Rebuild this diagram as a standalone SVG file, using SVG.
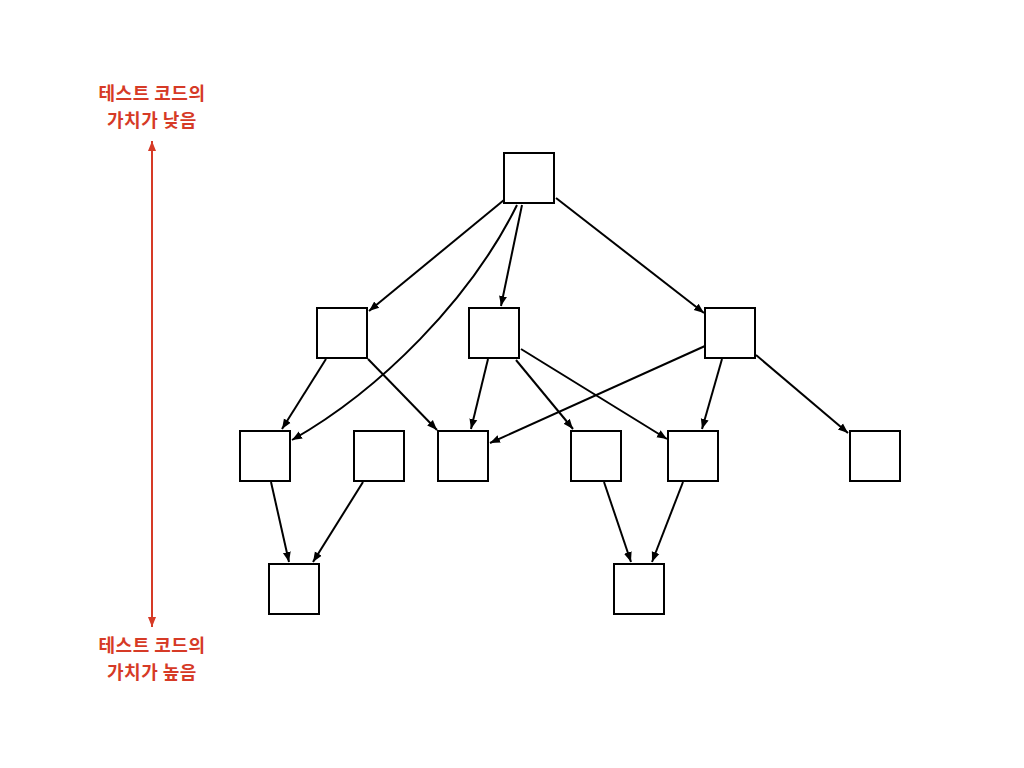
<svg xmlns="http://www.w3.org/2000/svg" width="1024" height="768" viewBox="0 0 1024 768">
  <defs>
    <marker id="arrow" viewBox="0 0 10 10" refX="10" refY="5" markerWidth="10" markerHeight="10" markerUnits="userSpaceOnUse" orient="auto">
      <path d="M0,1 L10,5 L0,9 Z" fill="#000"/>
    </marker>
    <marker id="arrowRed" viewBox="0 0 10 10" refX="10" refY="5" markerWidth="10" markerHeight="10" markerUnits="userSpaceOnUse" orient="auto-start-reverse">
      <path d="M0,1 L10,5 L0,9 Z" fill="#d63a26"/>
    </marker>
  </defs>
  <style>
    .node rect { fill: #fff; stroke: #000; stroke-width: 2; }
    .edge { fill: none; stroke: #000; stroke-width: 2; marker-end: url(#arrow); }
    .label { font-family: "Noto Sans CJK KR", "Noto Sans", sans-serif; font-size: 18px; font-weight: bold; letter-spacing: 0.5px; fill: #d63a26; text-anchor: middle; }
  </style>
  <rect width="1024" height="768" fill="#fff"/>

  <!-- value axis -->
  <g id="axis">
    <text class="label" x="152" y="100">테스트 코드의</text>
    <text class="label" x="152" y="127">가치가 낮음</text>
    <line x1="152" y1="141" x2="152" y2="627" stroke="#d63a26" stroke-width="2" marker-start="url(#arrowRed)" marker-end="url(#arrowRed)"/>
    <text class="label" x="152" y="652">테스트 코드의</text>
    <text class="label" x="152" y="679">가치가 높음</text>
  </g>

  <!-- connectors -->
  <g id="edges">
    <line class="edge" x1="504" y1="200" x2="369" y2="311"/>
    <path class="edge" d="M517,205 C470,300 380,390 292,440"/>
    <line class="edge" x1="522" y1="205" x2="501" y2="306"/>
    <line class="edge" x1="556" y1="198" x2="704" y2="313"/>
    <line class="edge" x1="326" y1="359" x2="282" y2="429"/>
    <line class="edge" x1="368" y1="359" x2="437" y2="430"/>
    <line class="edge" x1="488" y1="359" x2="471" y2="429"/>
    <line class="edge" x1="516" y1="360" x2="573" y2="429"/>
    <line class="edge" x1="521" y1="349" x2="667" y2="439"/>
    <line class="edge" x1="705" y1="346" x2="490" y2="443"/>
    <line class="edge" x1="722" y1="359" x2="702" y2="429"/>
    <line class="edge" x1="756" y1="355" x2="848" y2="433"/>
    <line class="edge" x1="271" y1="482" x2="289" y2="562"/>
    <line class="edge" x1="363" y1="482" x2="313" y2="562"/>
    <line class="edge" x1="604" y1="482" x2="631" y2="562"/>
    <line class="edge" x1="683" y1="482" x2="652" y2="562"/>
  </g>

  <!-- nodes -->
  <g id="n-top" class="node"><rect x="504" y="153" width="50" height="50"/></g>
  <g id="n-a" class="node"><rect x="317" y="308" width="50" height="50"/></g>
  <g id="n-b" class="node"><rect x="469" y="308" width="50" height="50"/></g>
  <g id="n-c" class="node"><rect x="705" y="308" width="50" height="50"/></g>
  <g id="n-d" class="node"><rect x="240" y="431" width="50" height="50"/></g>
  <g id="n-e" class="node"><rect x="354" y="431" width="50" height="50"/></g>
  <g id="n-f" class="node"><rect x="438" y="431" width="50" height="50"/></g>
  <g id="n-g" class="node"><rect x="571" y="431" width="50" height="50"/></g>
  <g id="n-h" class="node"><rect x="668" y="431" width="50" height="50"/></g>
  <g id="n-i" class="node"><rect x="850" y="431" width="50" height="50"/></g>
  <g id="n-j" class="node"><rect x="269" y="564" width="50" height="50"/></g>
  <g id="n-k" class="node"><rect x="614" y="564" width="50" height="50"/></g>
</svg>
